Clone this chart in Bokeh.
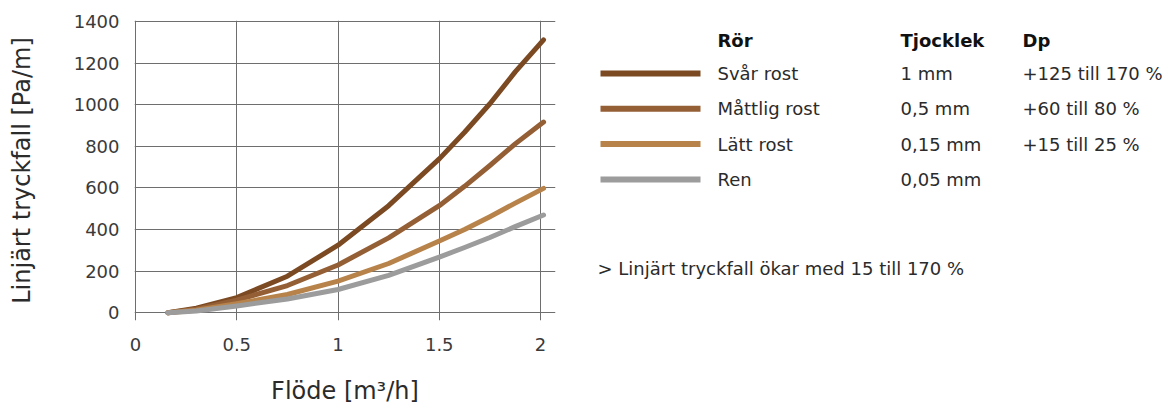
from bokeh.plotting import figure
from bokeh.models import Range1d, FixedTicker
from bokeh.layouts import row
from bokeh.core.properties import value
from bokeh.embed import file_html
from bokeh.resources import INLINE

# ---- data ----
flow = [0.16, 0.3, 0.5, 0.75, 1.0, 1.25, 1.5, 1.625, 1.75, 1.875, 2.015]
svar_rost = [0, 22, 73, 176, 325, 515, 740, 868, 1005, 1158, 1312]
mattlig_rost = [0, 17, 61, 131, 230, 360, 515, 608, 708, 812, 917]
latt_rost = [0, 12, 44, 88, 152, 237, 345, 400, 462, 527, 598]
ren = [0, 9, 33, 66, 112, 180, 268, 314, 362, 414, 470]

x_ticks = [0, 0.5, 1, 1.5, 2]
x_tick_labels = ["0", "0.5", "1", "1.5", "2"]
y_ticks = [0, 200, 400, 600, 800, 1000, 1200, 1400]

series_names = ["Svår rost", "Måttlig rost", "Lätt rost", "Ren"]
series_thickness = ["1 mm", "0,5 mm", "0,15 mm", "0,05 mm"]
series_dp = ["+125 till 170 %", "+60 till 80 %", "+15 till 25 %", ""]
series_colors = ["#7b4a23", "#955f36", "#b7834b", "#9c9c9c"]
series_values = [svar_rost, mattlig_rost, latt_rost, ren]

header_labels = ["Rör", "Tjocklek", "Dp"]
note_text = "> Linjärt tryckfall ökar med 15 till 170 %"

FONT = "DejaVu Sans"
TEXT_COLOR = "#2b2b2b"
GRID = "#6e6e6e"

H = 407
TOP, BOTTOM = 20, 87
PW = 577

# ---- chart ----
p = figure(width=PW, height=H,
           x_range=Range1d(-0.005, 2.074), y_range=Range1d(-37, 1405),
           output_backend="svg", toolbar_location=None,
           min_border_left=134, min_border_right=22, min_border_top=TOP,
           min_border_bottom=BOTTOM)
p.outline_line_color = None

for vals, col in zip(series_values, series_colors):
    p.line(flow, vals, line_color=col, line_width=5, line_cap="round",
           line_join="round")

p.xaxis.ticker = FixedTicker(ticks=x_ticks)
p.xaxis.major_label_overrides = {t: l for t, l in zip(x_ticks, x_tick_labels)}
p.yaxis.ticker = FixedTicker(ticks=y_ticks)
p.xgrid.ticker = FixedTicker(ticks=x_ticks)
p.ygrid.ticker = FixedTicker(ticks=y_ticks)
p.grid.grid_line_color = GRID
p.grid.grid_line_width = 1
p.grid.grid_line_alpha = 1.0

for ax in (p.xaxis, p.yaxis):
    ax.axis_line_color = None
    ax.major_tick_line_color = None
    ax.minor_tick_line_color = None
    ax.major_tick_out = 0
    ax.major_tick_in = 0
    ax.minor_tick_out = 0
    ax.minor_tick_in = 0
    ax.major_label_text_font = FONT
    ax.major_label_text_font_size = "18px"
    ax.major_label_text_color = "#3a3a3a"
    ax.axis_label_text_font = FONT
    ax.axis_label_text_font_size = "24px"
    ax.axis_label_text_font_style = "normal"
    ax.axis_label_text_color = TEXT_COLOR

p.xaxis.axis_label = "Flöde [m³/h]"
p.yaxis.axis_label = "Linjärt tryckfall [Pa/m]"
p.xaxis.major_label_standoff = 17
p.xaxis.axis_label_standoff = 23
p.yaxis.major_label_standoff = 15
p.yaxis.axis_label_standoff = 35

# ---- legend / table panel (y values = page pixel rows) ----
LW = 588
q = figure(width=LW, height=H,
           x_range=Range1d(0, LW), y_range=Range1d(H - BOTTOM, TOP),
           x_axis_type=None, y_axis_type=None,
           output_backend="svg", toolbar_location=None,
           min_border_left=0, min_border_right=0, min_border_top=TOP,
           min_border_bottom=BOTTOM)
q.grid.visible = False
q.outline_line_color = None

col_line0, col_line1 = 23, 123
col_name, col_thick, col_dp = 140, 323, 445
header_y = 40
row_y0, row_dy = 73, 35.3

q.text([col_name, col_thick, col_dp], [header_y] * 3, text=header_labels,
       text_font=value(FONT), text_font_size="18px", text_font_style="bold",
       text_color="#111111", text_baseline="middle", text_align="left")

ys = [row_y0 + i * row_dy for i in range(len(series_names))]
q.segment(x0=[col_line0] * 4, x1=[col_line1] * 4, y0=ys, y1=ys,
          line_color=series_colors, line_width=6)
for xcol, labels in ((col_name, series_names), (col_thick, series_thickness),
                     (col_dp, series_dp)):
    q.text([xcol] * 4, ys, text=labels, text_font=value(FONT),
           text_font_size="18px", text_color=TEXT_COLOR,
           text_baseline="middle", text_align="left")

q.text([20], [268], text=[note_text], text_font=value(FONT),
       text_font_size="18px", text_color=TEXT_COLOR, text_baseline="middle",
       text_align="left")

layout = row(p, q)
open("out.html", "w").write(file_html(layout, INLINE))
